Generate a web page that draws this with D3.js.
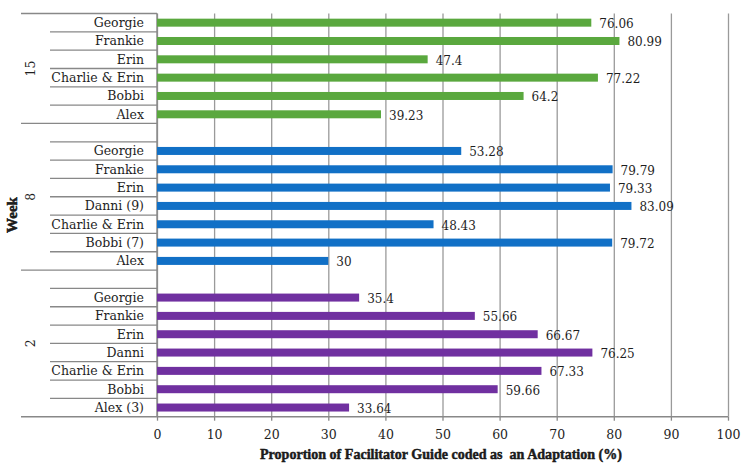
<!DOCTYPE html>
<html>
<head>
<meta charset="utf-8">
<script src="https://cdn.jsdelivr.net/npm/d3@7"></script>
<style>
  html, body { margin: 0; padding: 0; background: #fff; }
  svg { display: block; }
  text { font-family: "DejaVu Serif", "Liberation Serif", serif; fill: #1e1e1e; }
</style>
</head>
<body>
<svg id="chart" width="744" height="469"></svg>
<script>
// Week groups, listed top to bottom
const weeks = ["15", "8", "2"];

const week15Names  = ["Georgie", "Frankie", "Erin", "Charlie & Erin", "Bobbi", "Alex"];
const week15Values = [76.06, 80.99, 47.4, 77.22, 64.2, 39.23];

const week8Names  = ["Georgie", "Frankie", "Erin", "Danni (9)", "Charlie & Erin", "Bobbi (7)", "Alex"];
const week8Values = [53.28, 79.79, 79.33, 83.09, 48.43, 79.72, 30];

const week2Names  = ["Georgie", "Frankie", "Erin", "Danni", "Charlie & Erin", "Bobbi", "Alex (3)"];
const week2Values = [35.4, 55.66, 66.67, 76.25, 67.33, 59.66, 33.64];

const weekColors = ["#5aa83e", "#1170c6", "#7030a0"];
const xTicks = [0, 10, 20, 30, 40, 50, 60, 70, 80, 90, 100];
const xTitle = "Proportion of Facilitator Guide coded as  an Adaptation (%)";
const yTitle = "Week";

const groups = [
  { week: weeks[0], names: week15Names, values: week15Values, color: weekColors[0], spacer: false },
  { week: weeks[1], names: week8Names,  values: week8Values,  color: weekColors[1], spacer: true },
  { week: weeks[2], names: week2Names,  values: week2Values,  color: weekColors[2], spacer: true }
];

// Flatten into rows; later groups open with an empty spacer row
const rows = [];
groups.forEach((g, gi) => {
  const start = rows.length;
  if (g.spacer) rows.push({ id: "r" + rows.length, group: gi, blank: true, first: true });
  g.names.forEach((n, i) => {
    rows.push({ id: "r" + rows.length, group: gi, name: n, value: g.values[i],
                color: g.color, blank: false, first: !g.spacer && i === 0 });
  });
  g.start = start; g.end = rows.length - 1;
});

const svg = d3.select("#chart");
const plotLeft = 157, plotRight = 728, plotTop = 13.5, plotBottom = 416.7;
const outerLeft = 21, innerLeft = 50;

const x = d3.scaleLinear().domain([0, 100]).range([plotLeft, plotRight]);
const y = d3.scaleBand().domain(rows.map(r => r.id)).range([plotTop, plotBottom]).padding(0);
const barH = 8;

// Vertical gridlines
svg.append("g")
  .attr("transform", `translate(0,${plotBottom})`)
  .call(d3.axisBottom(x).tickValues(xTicks).tickSize(-(plotBottom - plotTop)).tickFormat(""))
  .call(g => g.select(".domain").remove())
  .call(g => g.selectAll("line").attr("stroke", "#9a9a9a").attr("stroke-width", 1.3));

// Bottom axis with tick labels
const xAxis = svg.append("g")
  .attr("transform", `translate(0,${plotBottom})`)
  .call(d3.axisBottom(x).tickValues(xTicks).tickSize(4).tickPadding(9).tickFormat(d3.format("d")));
xAxis.select(".domain").remove();
xAxis.selectAll("line").attr("stroke", "#888").attr("stroke-width", 1.3);
xAxis.selectAll("text").attr("font-size", 12.5).attr("fill", "#1e1e1e")
  .style("font-family", "DejaVu Serif, serif");

// Axis baseline running under the label area too
svg.append("line")
  .attr("x1", outerLeft).attr("x2", plotRight).attr("y1", plotBottom).attr("y2", plotBottom)
  .attr("stroke", "#888").attr("stroke-width", 1.4);

// Category axis line
svg.append("line")
  .attr("x1", plotLeft).attr("x2", plotLeft).attr("y1", plotTop).attr("y2", plotBottom)
  .attr("stroke", "#888").attr("stroke-width", 1.4);

// Row separators: long at group tops, short between names
rows.forEach(r => {
  const yy = y(r.id);
  svg.append("line")
    .attr("x1", r.first ? outerLeft : innerLeft).attr("x2", plotLeft)
    .attr("y1", yy).attr("y2", yy)
    .attr("stroke", "#888").attr("stroke-width", 1.3);
});

const named = rows.filter(r => !r.blank);

// Bars
svg.append("g").selectAll("rect").data(named).join("rect")
  .attr("x", x(0))
  .attr("y", d => y(d.id) + y.bandwidth() / 2 - barH / 2)
  .attr("width", d => x(d.value) - x(0))
  .attr("height", barH)
  .attr("fill", d => d.color);

// Value labels
svg.append("g").selectAll("text").data(named).join("text")
  .attr("x", d => x(d.value) + 8)
  .attr("y", d => y(d.id) + y.bandwidth() / 2 + 5.5)
  .attr("font-size", 12)
  .text(d => d.value);

// Category names
svg.append("g").selectAll("text").data(named).join("text")
  .attr("x", 144)
  .attr("y", d => y(d.id) + y.bandwidth() / 2 + 4.5)
  .attr("text-anchor", "end")
  .attr("font-size", 12.5)
  .text(d => d.name);

// Week group labels
groups.forEach(g => {
  const cy = (y(rows[g.start].id) + y(rows[g.end].id) + y.bandwidth()) / 2;
  svg.append("text")
    .attr("transform", `translate(35,${cy}) rotate(-90)`)
    .attr("text-anchor", "middle")
    .attr("font-size", 12.5)
    .text(g.week);
});

// Axis titles
svg.append("text")
  .attr("x", 441)
  .attr("y", 459)
  .attr("text-anchor", "middle")
  .attr("font-size", 14)
  .attr("font-weight", "bold")
  .attr("stroke", "#111").attr("stroke-width", 0.45)
  .style("font-family", "Liberation Serif, serif")
  .style("white-space", "pre")
  .attr("textLength", 362)
  .attr("lengthAdjust", "spacingAndGlyphs")
  .text(xTitle);

svg.append("text")
  .attr("transform", `translate(17,215) rotate(-90)`)
  .attr("text-anchor", "middle")
  .attr("font-size", 15)
  .attr("font-weight", "bold")
  .attr("stroke", "#111").attr("stroke-width", 0.5)
  .style("font-family", "Liberation Serif, serif")
  .text(yTitle);
</script>
</body>
</html>
